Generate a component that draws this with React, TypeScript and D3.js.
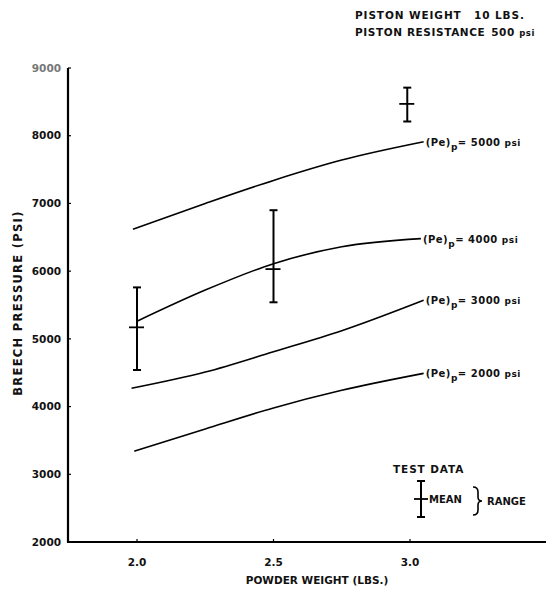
import React from "react";
import * as d3 from "d3";

const yTicks = [2000, 3000, 4000, 5000, 6000, 7000, 8000, 9000];
const xTicks = [2.0, 2.5, 3.0];
const xTickLabels = ["2.0", "2.5", "3.0"];

const curveLabels = ["2000", "3000", "4000", "5000"];
const curve2000x = [1.99, 2.25, 2.5, 2.75, 3.05];
const curve2000y = [3340, 3670, 3980, 4240, 4490];
const curve3000x = [1.98, 2.25, 2.5, 2.75, 3.05];
const curve3000y = [4270, 4510, 4810, 5120, 5570];
const curve4000x = [2.0, 2.25, 2.5, 2.75, 3.04];
const curve4000y = [5260, 5720, 6110, 6360, 6480];
const curve5000x = [1.985, 2.25, 2.5, 2.75, 3.05];
const curve5000y = [6620, 7000, 7340, 7640, 7910];

const testX = [2.0, 2.5, 2.99];
const testMean = [5170, 6030, 8470];
const testMin = [4540, 5540, 8210];
const testMax = [5760, 6900, 8710];

const FONT = "'DejaVu Sans', Verdana, sans-serif";

export default function App() {
  const W = 546, H = 592;
  const x = d3.scaleLinear().domain([2.0, 3.0]).range([137, 410]);
  const y = d3.scaleLinear().domain([2000, 9000]).range([542, 68]);
  const line = d3
    .line<[number, number]>()
    .x((d) => x(d[0]))
    .y((d) => y(d[1]))
    .curve(d3.curveMonotoneX);

  const curves = [
    { xs: curve2000x, ys: curve2000y, label: curveLabels[0] },
    { xs: curve3000x, ys: curve3000y, label: curveLabels[1] },
    { xs: curve4000x, ys: curve4000y, label: curveLabels[2] },
    { xs: curve5000x, ys: curve5000y, label: curveLabels[3] },
  ];

  const axisX0 = 68;
  const baseY = y(2000);

  return (
    <svg
      width={W}
      height={H}
      style={{ position: "absolute", left: 0, top: 0, background: "#fff" }}
      fontFamily={FONT}
    >
      <rect x={0} y={0} width={W} height={H} fill="#fff" />
      {/* header */}
      <text x={355} y={19} fontSize={10.5} fontWeight="bold" fill="#111" letterSpacing={0.9}>
        PISTON WEIGHT{"\u2002\u2002"}10 LBS.
      </text>
      <text x={355} y={36} fontSize={10.5} fontWeight="bold" fill="#111" letterSpacing={0.6}>
        PISTON RESISTANCE{"\u2002"}500 <tspan fontSize={8.5}>psi</tspan>
      </text>

      {/* axes */}
      <line x1={axisX0} y1={y(9000)} x2={axisX0} y2={baseY} stroke="#000" strokeWidth={2.2} />
      <line x1={axisX0 - 1} y1={baseY} x2={W} y2={baseY} stroke="#000" strokeWidth={2.2} />
      {yTicks.map((t) => (
        <g key={t}>
          <line x1={axisX0} x2={axisX0 + 3} y1={y(t)} y2={y(t)} stroke="#000" strokeWidth={1.2} />
          <text
            x={61}
            y={y(t)}
            dy="0.35em"
            textAnchor="end"
            fontSize={10.5}
            fontWeight="bold"
            fill={t === 9000 ? "#777" : "#111"}
          >
            {t}
          </text>
        </g>
      ))}
      {xTicks.map((t, i) => (
        <g key={t}>
          <line x1={x(t)} x2={x(t)} y1={baseY} y2={baseY - 3} stroke="#000" strokeWidth={1.2} />
          <text x={x(t)} y={baseY + 24} textAnchor="middle" fontSize={10.5} fontWeight="bold" fill="#111">
            {xTickLabels[i]}
          </text>
        </g>
      ))}
      <text x={317} y={584} textAnchor="middle" fontSize={10.5} fontWeight="bold" fill="#111">
        POWDER WEIGHT (LBS.)
      </text>
      <text
        transform={`translate(22,303) rotate(-90)`}
        textAnchor="middle"
        fontSize={11.5}
        fontWeight="bold"
        fill="#111"
        letterSpacing={1.3}
      >
        BREECH PRESSURE (PSI)
      </text>

      {/* theory curves */}
      {curves.map((c) => {
        const pts: [number, number][] = c.xs.map((v, i) => [v, c.ys[i]]);
        const last = pts[pts.length - 1];
        return (
          <g key={c.label}>
            <path d={line(pts) || ""} fill="none" stroke="#000" strokeWidth={1.6} />
            <text
              x={x(last[0]) + 2}
              y={y(last[1]) + 4}
              fontSize={10}
              fontWeight="bold"
              fill="#111"
              letterSpacing={0.5}
            >
              (Pe)
              <tspan dy={4} fontSize={9}>p</tspan>
              <tspan dy={-4}>= {c.label} </tspan>
              <tspan fontSize={9}>psi</tspan>
            </text>
          </g>
        );
      })}

      {/* test data */}
      {testX.map((tx, i) => (
        <g key={tx} stroke="#000">
          <line x1={x(tx)} x2={x(tx)} y1={y(testMax[i])} y2={y(testMin[i])} strokeWidth={2} />
          <line x1={x(tx) - 4} x2={x(tx) + 4} y1={y(testMax[i])} y2={y(testMax[i])} strokeWidth={2} />
          <line x1={x(tx) - 4} x2={x(tx) + 4} y1={y(testMin[i])} y2={y(testMin[i])} strokeWidth={2} />
          <line x1={x(tx) - 8} x2={x(tx) + 7} y1={y(testMean[i])} y2={y(testMean[i])} strokeWidth={1.8} />
        </g>
      ))}

      {/* legend */}
      <text x={393} y={473} fontSize={10.5} fontWeight="bold" fill="#111" letterSpacing={0.9}>
        TEST DATA
      </text>
      <g stroke="#000">
        <line x1={421} x2={421} y1={481} y2={517} strokeWidth={2} />
        <line x1={417} x2={425} y1={481} y2={481} strokeWidth={2} />
        <line x1={417} x2={425} y1={517} y2={517} strokeWidth={2} />
        <line x1={414} x2={428} y1={499} y2={499} strokeWidth={1.8} />
      </g>
      <text x={429} y={503} fontSize={10} fontWeight="bold" fill="#111">
        MEAN
      </text>
      <path
        d="M473,487 Q478,487 478,492 L478,497 Q478,501 482,501 Q478,501 478,505 L478,510 Q478,515 473,515"
        fill="none"
        stroke="#000"
        strokeWidth={1.6}
      />
      <text x={487} y={505} fontSize={10} fontWeight="bold" fill="#111">
        RANGE
      </text>
    </svg>
  );
}
